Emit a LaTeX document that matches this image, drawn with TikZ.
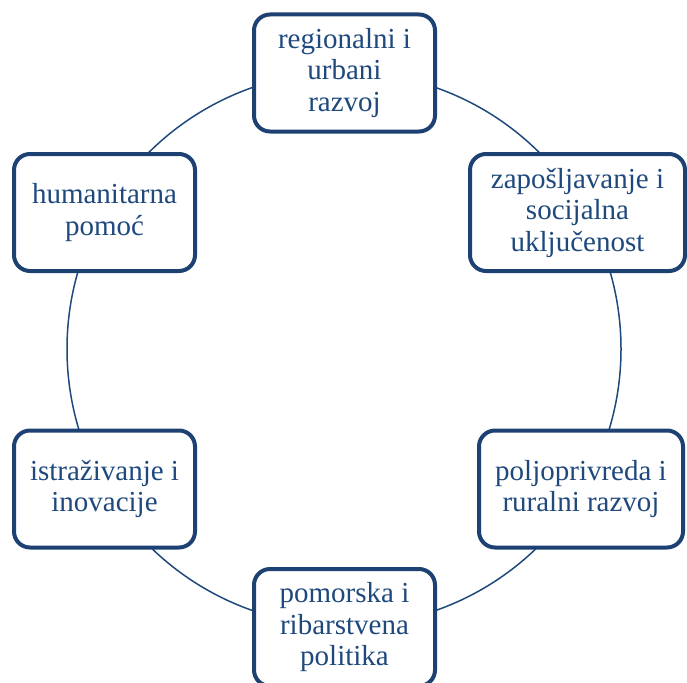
\documentclass[tikz,border=0pt]{standalone}
\usepackage{fontspec}
\setmainfont{Liberation Serif}
\definecolor{navy}{RGB}{31,73,125}
\definecolor{rim}{RGB}{30,65,115}
\begin{document}
\begin{tikzpicture}[x=1pt, y=-1pt,
    area/.style={draw=rim, line width=4pt, rounded corners=16pt, fill=white,
        text=navy, align=center, inner sep=0pt, minimum height=117pt,
        font=\fontsize{29}{31.5}\selectfont}]
            \useasboundingbox (0,0) rectangle (687,682);
            \node  (0) at (344, 349) {};
            \draw [navy, line width=1.5pt] (0.center) circle (277pt);
            \node [area, minimum width=181pt] (1) at (344.5, 73) {regionalni i\\urbani\\razvoj};
            \node [area, minimum width=215pt] (2) at (577.5, 212.5) {zapošljavanje i\\socijalna\\uključenost};
            \node [area, minimum width=204pt] (3) at (581, 489) {poljoprivreda i\\ruralni razvoj};
            \node [area, minimum width=181pt] (4) at (344.5, 627.5) {pomorska i\\ribarstvena\\politika};
            \node [area, minimum width=181pt] (5) at (104.5, 489) {istraživanje i\\inovacije};
            \node [area, minimum width=181pt] (6) at (104.5, 212.5) {humanitarna\\pomoć};
    \end{tikzpicture}
\end{document}
